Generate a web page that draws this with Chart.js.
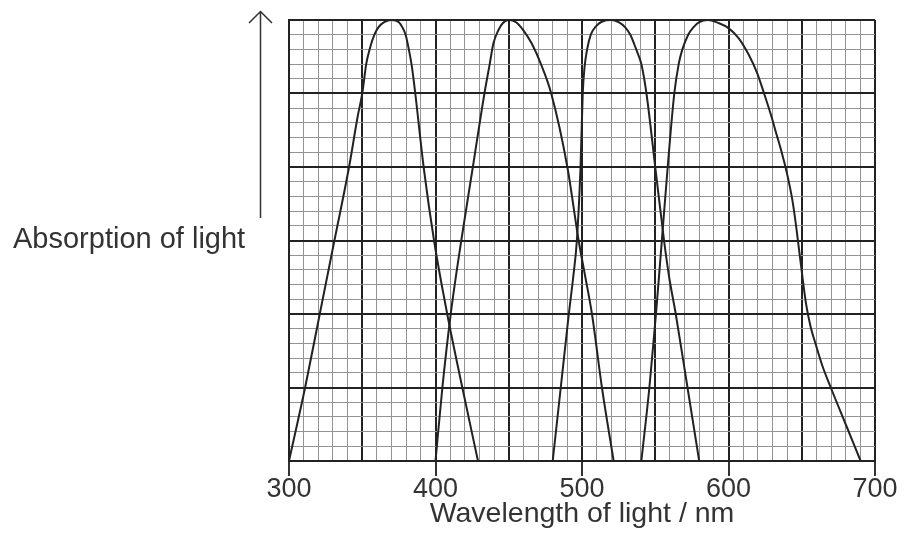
<!DOCTYPE html>
<html>
<head>
<meta charset="utf-8">
<title>Absorption of light</title>
<script src="https://cdn.jsdelivr.net/npm/chart.js@4.4.1/dist/chart.umd.min.js"></script>
<style>
  html, body { margin: 0; padding: 0; background: #fff; }
  #wrap { width: 904px; height: 545px; }
</style>
</head>
<body>
<div id="wrap"><canvas id="chart" width="904" height="545"></canvas></div>
<script>
  // ---- data ----
  const xTickLabels = [300, 400, 500, 600, 700];

  const wlA  = [300, 311, 321, 331, 341, 347, 350, 352.7, 355, 358.3, 361, 365, 370, 375, 377.4, 379.6, 381.8, 384, 386.2, 391.9, 399, 408, 418.3, 429];
  const absA = [0, 10, 20, 30, 40, 47, 50, 54, 56, 58, 59, 59.7, 60, 59.7, 59, 58, 56, 53.5, 50, 40, 30, 20, 10, 0];

  const wlB  = [400, 404.7, 410.4, 417.6, 425.5, 433.4, 437, 439.5, 442.9, 446, 450, 455, 460, 465.7, 472, 479, 490, 497.7, 502.3, 506.8, 513.6, 521.6];
  const absB = [0, 10, 20, 30, 40, 50, 54, 56.8, 58.6, 59.6, 60, 59.7, 58.6, 56.8, 54, 50, 40, 30, 25, 20, 10, 0];

  const wlC  = [480, 485.5, 491, 494, 496.5, 499, 500.5, 501.7, 503.5, 506, 509.8, 513.8, 520, 525, 529.5, 533, 537, 540.5, 544, 550, 556, 559.5, 564, 572, 580];
  const absC = [0, 10, 20, 25, 30, 40, 50, 53.5, 56, 58, 59.2, 59.8, 60, 59.7, 59, 58, 56, 54, 50, 40, 30, 25, 20, 10, 0];

  const wlD  = [540.5, 546, 550.5, 554.5, 558.5, 563, 566, 568.5, 572.5, 576, 580, 586, 593, 600, 607, 614, 619.5, 624.3, 628.8, 632.7, 636.3, 639.5, 643.6, 646, 648, 650.5, 653, 656, 659.5, 664, 669.8, 680, 690.2];
  const absD = [0, 10, 20, 30, 40, 50, 54, 56, 58, 59, 59.7, 60, 59.6, 58.9, 57.5, 55.2, 52.8, 50, 47.2, 44.5, 42, 39.5, 35.5, 32.2, 29, 25, 21.3, 18.3, 15.9, 13, 10, 5, 0];

  const FONT = '"Liberation Sans", Arial, sans-serif';
  const INK = '#333';

  const toPoints = (xs, ys) => xs.map((x, i) => ({ x: x, y: ys[i] }));
  const curve = (xs, ys) => ({
    data: toPoints(xs, ys),
    borderColor: '#222',
    borderWidth: 2,
    pointRadius: 0,
    fill: false,
    cubicInterpolationMode: 'monotone',
  });

  // y label with arrow, drawn beside the grid
  const yLabel = {
    id: 'yLabel',
    afterDraw(chart) {
      const ctx = chart.ctx;
      ctx.save();
      ctx.fillStyle = INK;
      ctx.font = '29px ' + FONT;
      ctx.textAlign = 'left';
      ctx.textBaseline = 'alphabetic';
      ctx.fillText('Absorption of light', 13, 248);
      ctx.strokeStyle = INK;
      ctx.lineWidth = 1.5;
      ctx.beginPath();
      ctx.moveTo(260.5, 218);
      ctx.lineTo(260.5, 12);
      ctx.moveTo(249, 23);
      ctx.lineTo(260.5, 11.5);
      ctx.lineTo(272, 23);
      ctx.stroke();
      ctx.restore();
    }
  };

  new Chart(document.getElementById('chart'), {
    type: 'line',
    data: {
      datasets: [curve(wlA, absA), curve(wlB, absB), curve(wlC, absC), curve(wlD, absD)]
    },
    options: {
      responsive: false,
      animation: false,
      layout: { padding: { top: 20, right: 29, left: 0, bottom: 0 } },
      plugins: { legend: { display: false }, tooltip: { enabled: false } },
      scales: {
        x: {
          type: 'linear',
          min: 300,
          max: 700,
          afterFit: (s) => { s.height = 84; },
          ticks: {
            stepSize: 10,
            autoSkip: false,
            maxRotation: 0,
            padding: -3,
            color: INK,
            font: { family: FONT, size: 27 },
            callback: (v) => xTickLabels.includes(v) ? String(v) : '',
          },
          grid: {
            color: (c) => c.tick.value % 50 === 0 ? '#222' : '#939393',
            lineWidth: (c) => c.tick.value % 50 === 0 ? 2 : 1,
            tickColor: (c) => xTickLabels.includes(c.tick.value) ? '#333' : 'rgba(0,0,0,0)',
            tickLength: 15,
            tickWidth: 2,
          },
          border: { display: true, color: '#222', width: 2 },
          title: {
            display: true,
            text: 'Wavelength of light / nm',
            color: INK,
            font: { family: FONT, size: 28.5 },
            padding: { top: 0, bottom: 14 },
          },
        },
        y: {
          min: 0,
          max: 60,
          afterFit: (s) => { s.width = 289; },
          ticks: { stepSize: 2, display: false },
          grid: {
            color: (c) => c.tick.value % 10 === 0 ? '#222' : '#939393',
            lineWidth: (c) => c.tick.value % 10 === 0 ? 2 : 1,
            drawTicks: false,
          },
          border: { display: true, color: '#222', width: 2 },
        }
      }
    },
    plugins: [yLabel]
  });
</script>
</body>
</html>
